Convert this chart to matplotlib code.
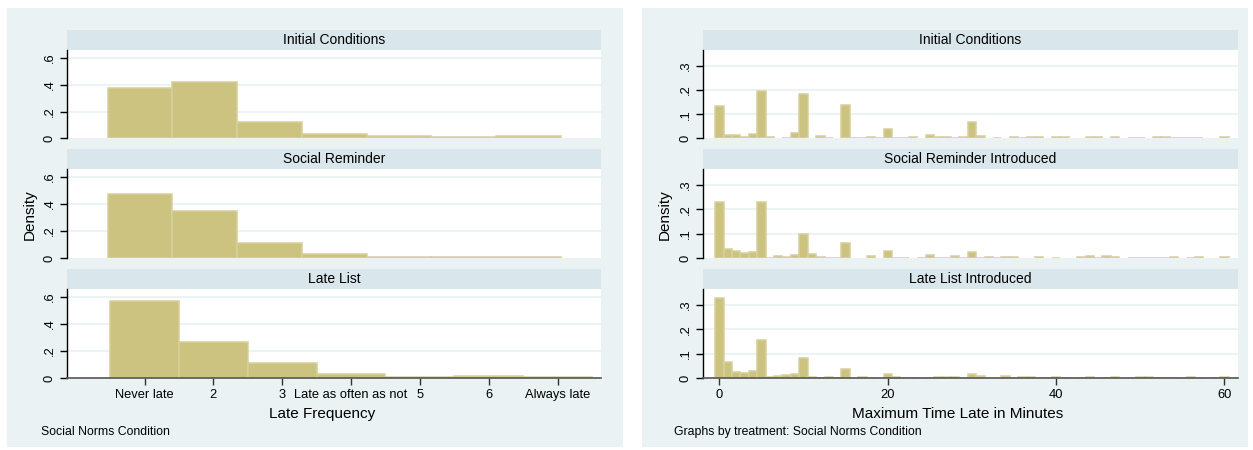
import numpy as np
import matplotlib
matplotlib.use("Agg")
import matplotlib.pyplot as plt
from matplotlib.patches import Rectangle

plt.rcParams["font.family"] = ["Liberation Sans", "DejaVu Sans"]

# ---- data ----
freq_labels = ["Never late", "2", "3", "Late as often as not", "5", "6", "Always late"]
freq_titles = ["Initial Conditions", "Social Reminder", "Late List"]
freq_initial = [0.378, 0.417, 0.126, 0.030, 0.017, 0.010, 0.017]
freq_reminder = [0.474, 0.348, 0.109, 0.029, 0.007, 0.013, 0.007]
freq_latelist = [0.567, 0.265, 0.110, 0.029, 0.007, 0.015, 0.007]

min_titles = ["Initial Conditions", "Social Reminder Introduced", "Late List Introduced"]
minutes = np.arange(0, 61)
min_initial = [
    .132, .0135, .0135, .007, .019, .197, .007, 0, .002, .023,
    .181, 0, .011, .003, 0, .136, .002, .002, .007, .002,
    .039, .002, .002, .007, 0, .015, .007, .007, .002, .007,
    .068, .009, 0, .002, 0, .005, .003, .005, .005, 0,
    .005, .005, 0, 0, .005, .005, 0, .005, 0, .002,
    .002, 0, .006, .006, .002, .002, .002, .002, 0, 0,
    .005]
min_reminder = [
    .228, .038, .031, .023, .027, .228, .002, .009, .005, .014,
    .100, .019, .007, .002, .002, .064, 0, 0, .011, 0,
    .031, .002, .002, 0, .002, .014, .002, .002, .011, .002,
    .027, .002, .007, .002, .007, .007, 0, 0, .007, 0,
    .002, 0, 0, .007, .011, .002, .011, .007, 0, .002,
    .002, .002, .002, .002, .007, 0, .002, .007, 0, 0,
    .007]
min_latelist = [
    .328, .068, .027, .023, .031, .157, .007, .011, .015, .019,
    .084, .007, .002, .007, .002, .039, 0, .007, .003, 0,
    .019, .007, .003, .003, 0, .003, .007, .007, .007, 0,
    .019, .011, 0, 0, .011, 0, .007, .007, .003, .003,
    .007, .003, 0, .003, .007, 0, .003, .007, 0, 0,
    .007, .007, .003, .003, .003, 0, .007, .003, 0, .003,
    .007]

# ---- style ----
W, H = 1253, 450
BG = "#EAF2F3"
STRIP = "#D9E6EB"
FILL = "#CBC37F"
EDGE = "#D6D09A"
GRID = "#EAF2F3"


def box(x0, y0, x1, y1):
    return [x0 / W, 1 - y1 / H, (x1 - x0) / W, (y1 - y0) / H]


def ftext(x, y, s, **kw):
    fig.text(x / W, 1 - y / H, s, **kw)


fig = plt.figure(figsize=(W / 100, H / 100), dpi=100, facecolor="white")
for x0, x1 in [(7, 623), (642, 1248)]:
    fig.patches.append(Rectangle((x0 / W, 1 - 447 / H), (x1 - x0) / W, (447 - 8) / H,
                                 transform=fig.transFigure, facecolor=BG,
                                 edgecolor="none", zorder=-10))

strips = [(30, 50), (149, 169), (269, 289)]
plots = [(50, 138.5), (169, 258.3), (289, 378.3)]


def panel(x0, x1, i, title, ylim, yticks, ylabels, xlim, bottom):
    s = fig.add_axes(box(x0, strips[i][0], x1, strips[i][1]))
    s.set_facecolor(STRIP)
    s.set_xticks([]); s.set_yticks([])
    for sp in s.spines.values():
        sp.set_visible(False)
    s.text(0.5, 0.5, title, ha="center", va="center", fontsize=10, transform=s.transAxes)

    ax = fig.add_axes(box(x0, plots[i][0], x1, plots[i][1]))
    ax.set_facecolor("white")
    ax.set_xlim(*xlim)
    ax.set_ylim(*ylim)
    ax.set_yticks(yticks)
    ax.set_yticklabels(ylabels)
    for t in yticks[1:]:
        ax.axhline(t, color=GRID, lw=1.3, zorder=0)
    ax.tick_params(axis="y", labelrotation=90, length=5, width=1, labelsize=9.3, pad=3)
    for lab in ax.get_yticklabels():
        lab.set_va("center")
    for k in ["top", "right"]:
        ax.spines[k].set_visible(False)
    ax.spines["left"].set_color("black")
    ax.spines["left"].set_linewidth(1)
    if bottom:
        ax.spines["bottom"].set_color("#555555")
        ax.spines["bottom"].set_linewidth(1.2)
        ax.tick_params(axis="x", length=5, width=1, labelsize=9.3, pad=3, color="#333333")
    else:
        ax.spines["bottom"].set_visible(False)
        ax.set_xticks([])
    return ax


# ---- left: Late Frequency ----
freq_sets = [freq_initial, freq_reminder, freq_latelist]
freq_bins = [(0.465, 0.94), (0.465, 0.94), (0.5, 1.0)]
for i in range(3):
    ax = panel(67, 601, i, freq_titles[i], (0, 0.656), [0, 0.2, 0.4, 0.6],
               ["0", ".2", ".4", ".6"], (-0.126, 7.63), i == 2)
    start, w = freq_bins[i]
    lefts = start + w * np.arange(len(freq_sets[i]))
    ax.bar(lefts, freq_sets[i], width=w, align="edge", color=FILL,
           edgecolor=EDGE, linewidth=1.1, zorder=2)
    if i == 2:
        ax.set_xticks(np.arange(1, 8))
        ax.set_xticklabels(freq_labels)

# ---- right: Maximum Time Late ----
min_sets = [min_initial, min_reminder, min_latelist]
for i in range(3):
    ax = panel(702.5, 1237.7, i, min_titles[i], (0, 0.364), [0, 0.1, 0.2, 0.3],
               ["0", ".1", ".2", ".3"], (-2.0, 61.57), i == 2)
    h = np.array(min_sets[i])
    keep = h > 0
    ax.bar(minutes[keep], h[keep], width=1.0, color=FILL,
           edgecolor=EDGE, linewidth=1.1, zorder=2)
    if i == 2:
        ax.set_xticks([0, 20, 40, 60])
        ax.set_xticklabels(["0", "20", "40", "60"])

# ---- titles and notes ----
ftext(30, 215, "Density", rotation=90, ha="center", va="center", fontsize=11)
ftext(665, 215, "Density", rotation=90, ha="center", va="center", fontsize=11)
ftext(322, 414, "Late Frequency", ha="center", va="center", fontsize=11)
ftext(958, 414, "Maximum Time Late in Minutes", ha="center", va="center", fontsize=11)
ftext(41, 432, "Social Norms Condition", ha="left", va="center", fontsize=8.8)
ftext(674, 432, "Graphs by treatment: Social Norms Condition", ha="left", va="center", fontsize=8.8)

fig.savefig("out.png", dpi=100, facecolor="white")
